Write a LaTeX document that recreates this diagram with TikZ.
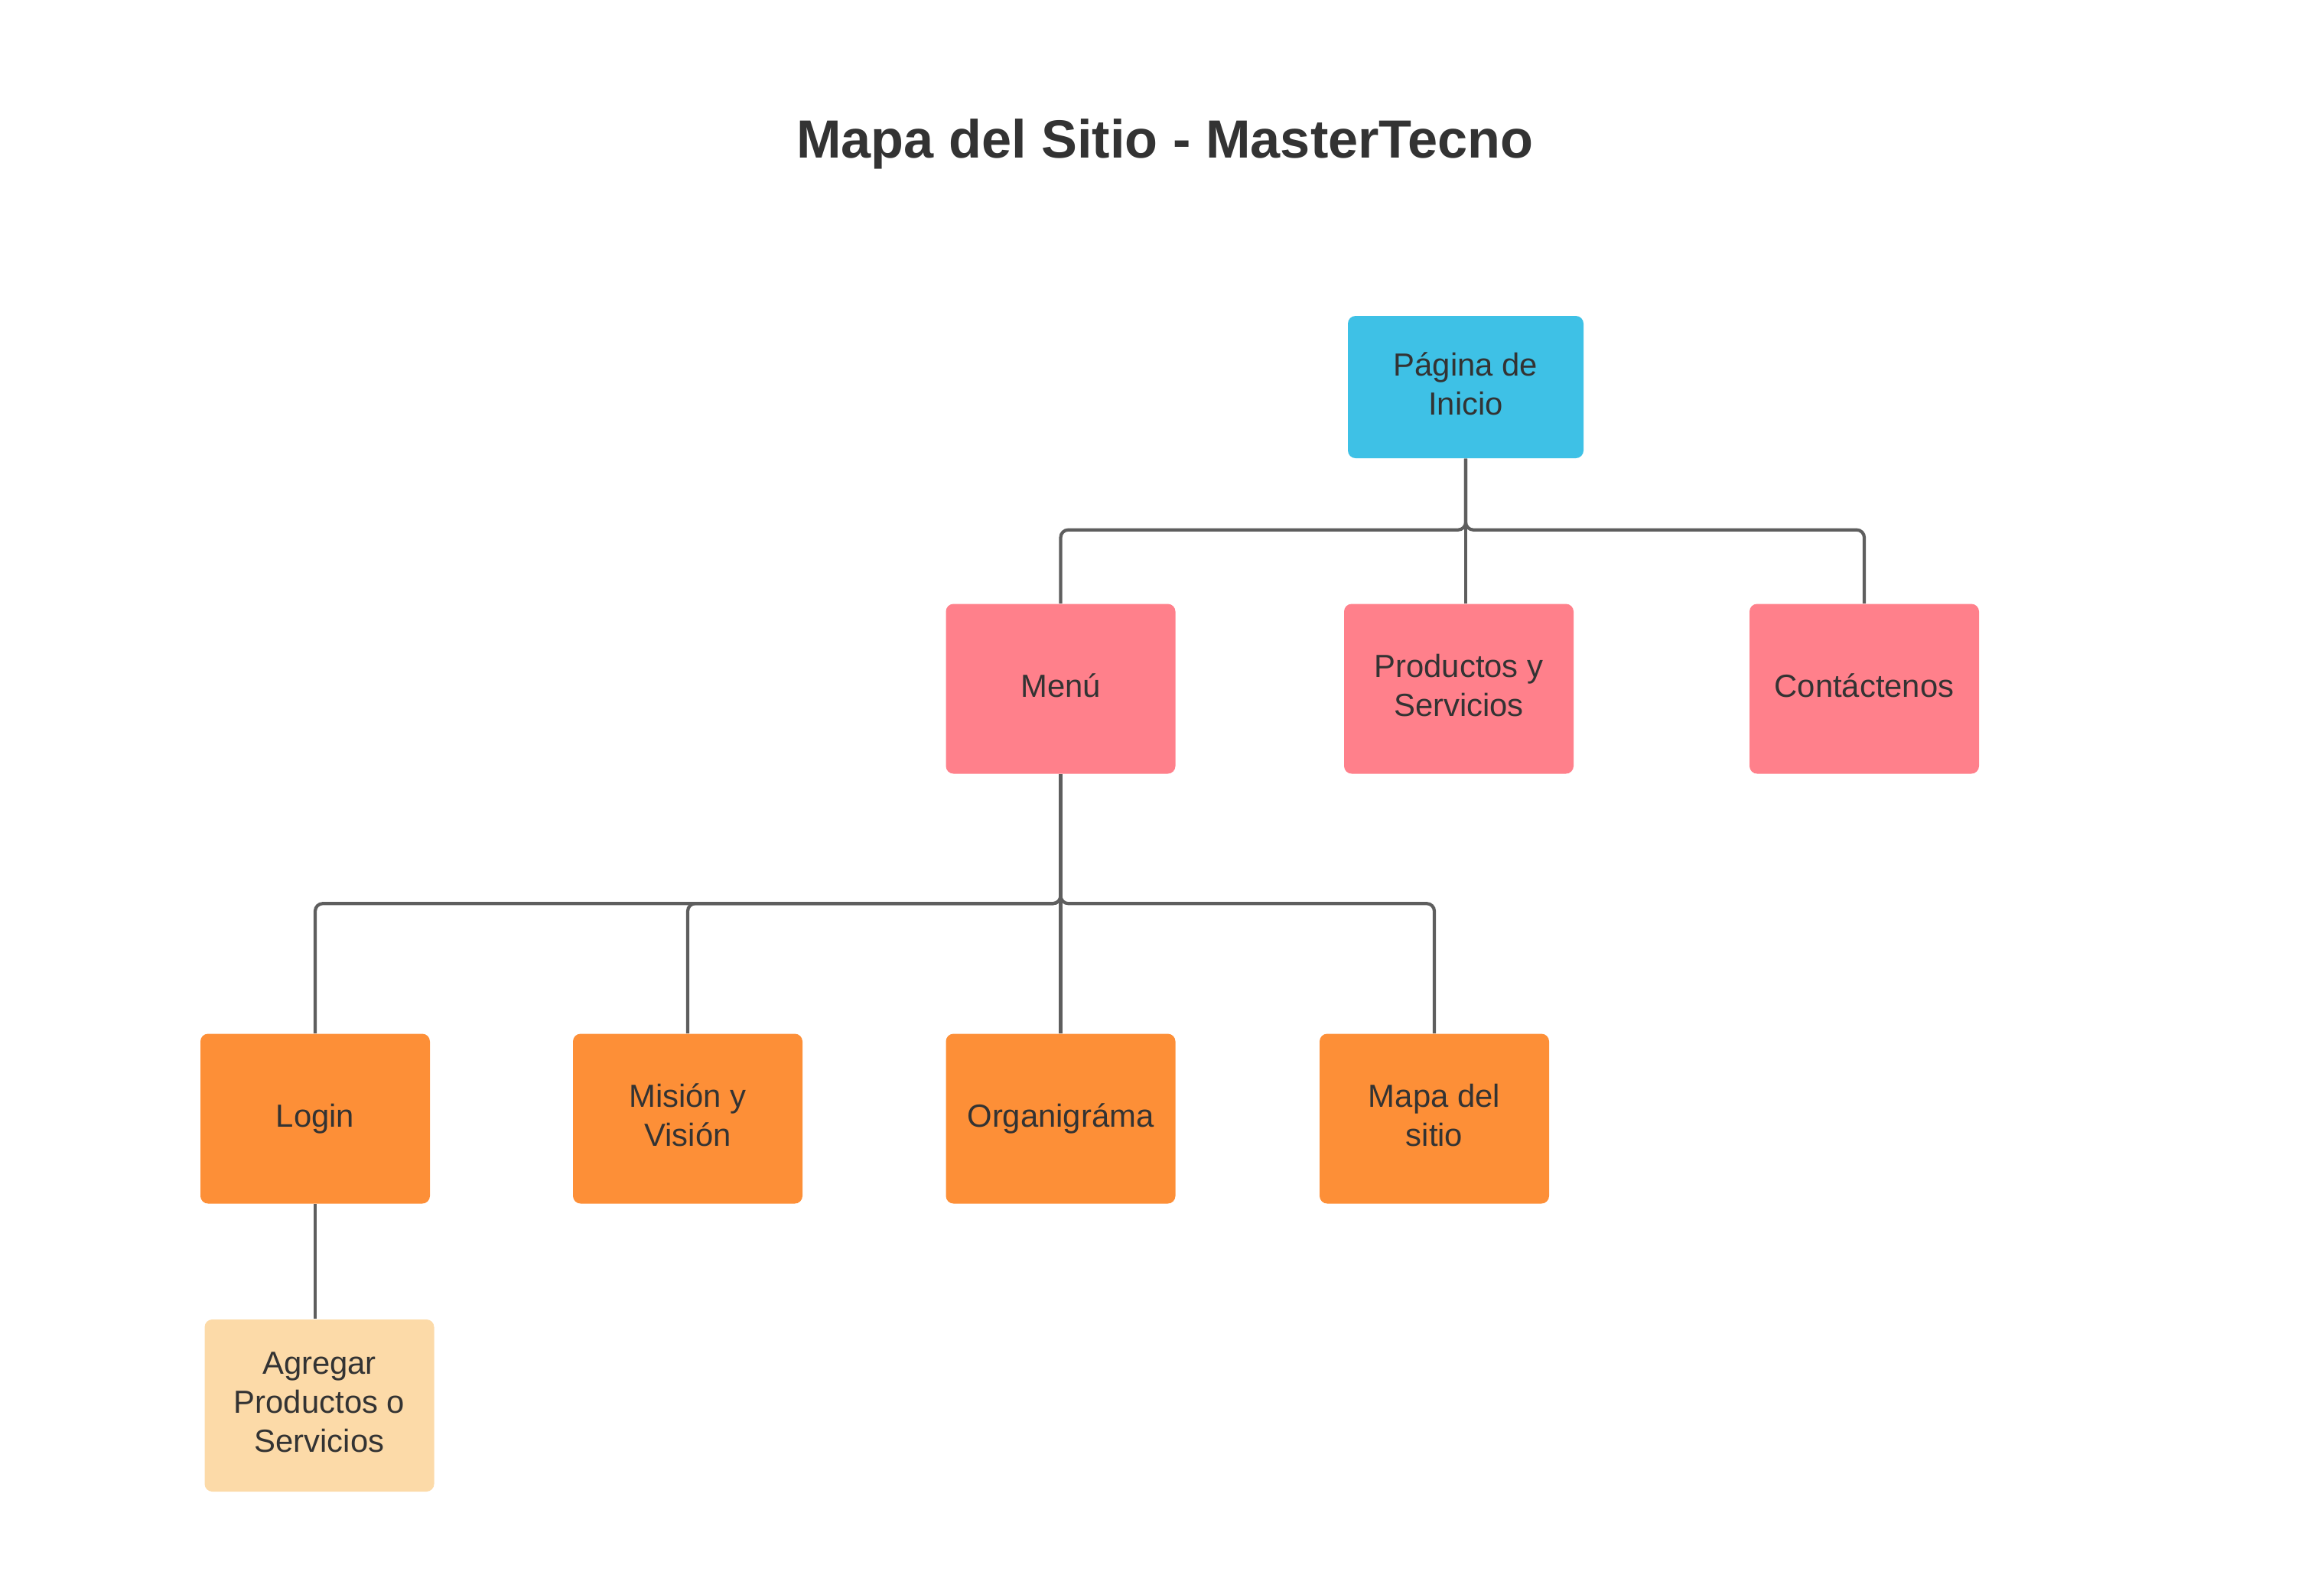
\documentclass[tikz,border=0pt]{standalone}
\usepackage{fontspec}
\setmainfont{Liberation Sans}
\definecolor{azul}{HTML}{3EC1E6}
\definecolor{rosa}{HTML}{FF808B}
\definecolor{naranja}{HTML}{FD8F37}
\definecolor{crema}{HTML}{FCDAA8}
\definecolor{linea}{HTML}{5E5E5E}
\definecolor{texto}{HTML}{333333}
\begin{document}
\begin{tikzpicture}[
  caja/.style={rectangle, rounded corners=0.1cm, minimum width=3.0cm, minimum height=2.22cm,
    align=center, inner sep=0pt, text depth=2.6pt, text=texto, font=\fontsize{11.9}{14.5}\selectfont},
  conn/.style={draw=linea, line width=1.2pt, rounded corners=0.1cm}
]
\useasboundingbox (0,0) rectangle (30.38,-20.63);

\node[text=texto, font=\bfseries\fontsize{20}{24}\selectfont] (titulo) at (15.23,-1.88) {Mapa del Sitio - MasterTecno};

\node[caja, fill=azul, minimum width=3.08cm, minimum height=1.86cm] (inicio) at (19.16,-5.06) {Página de\\Inicio};

\node[caja, fill=rosa] (menu) at (13.865,-9.005) {Menú};
\node[caja, fill=rosa] (productos) at (19.07,-9.005) {Productos y\\Servicios};
\node[caja, fill=rosa] (contacto) at (24.37,-9.005) {Contáctenos};

\node[caja, fill=naranja] (login) at (4.12,-14.625) {Login};
\node[caja, fill=naranja] (mision) at (8.99,-14.625) {Misión y\\Visión};
\node[caja, fill=naranja] (organigrama) at (13.865,-14.625) {Organigráma};
\node[caja, fill=naranja] (mapa) at (18.75,-14.625) {Mapa del\\sitio};

\node[caja, fill=crema, minimum height=2.25cm] (agregar) at (4.175,-18.375) {Agregar\\Productos o\\Servicios};

\draw[conn] (inicio.south) -- ++(0,-0.93) -| (menu.north);
\draw[conn] (inicio.south) -- (inicio.south |- productos.north);
\draw[conn] (inicio.south) -- ++(0,-0.93) -| (contacto.north);

\draw[conn] (menu.south) -- ++(0,-1.69) -| (login.north);
\draw[conn] (menu.south) -- ++(0,-1.69) -| (mision.north);
\draw[conn] (menu.south) -- (organigrama.north);
\draw[conn] (menu.south) -- ++(0,-1.69) -| (mapa.north);

\draw[conn] (login.south) -- (login.south |- agregar.north);
\end{tikzpicture}
\end{document}
